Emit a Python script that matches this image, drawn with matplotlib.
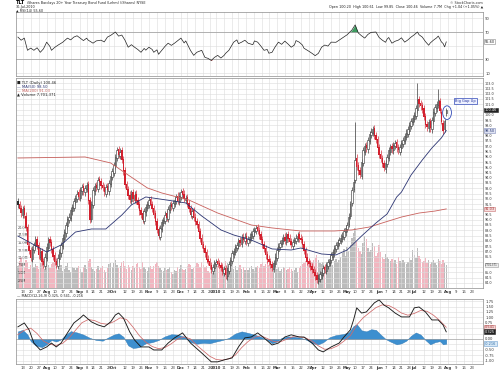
import numpy as np
import pandas as pd
import matplotlib
matplotlib.use('Agg')
import matplotlib.pyplot as plt
import matplotlib.transforms as mtrans
from matplotlib.patches import Ellipse

# TLT daily candles, 9 Jul 2009 - 30 Jul 2010
close = [91.4, 91.0, 90.6, 91.0, 90.5, 89.2, 87.6, 87.0, 86.4, 87.2,
         87.6, 88.1, 87.5, 86.6, 86.9, 86.0, 85.7, 86.5, 87.4, 88.1,
         87.8, 87.1, 86.5, 86.0, 85.7, 86.4, 86.9, 87.6, 88.3, 88.8,
         89.5, 90.1, 90.3, 90.9, 91.2, 91.8, 92.1, 92.5, 92.2, 92.8,
         93.1, 92.7, 93.0, 93.3, 91.8, 90.0, 91.5, 92.8, 93.2, 93.0,
         93.8, 93.6, 93.2, 93.0, 92.6, 93.1, 92.8, 93.5, 94.2, 94.6,
         95.2, 96.0, 96.6, 96.2, 96.5, 95.7, 94.6, 93.3, 92.8, 92.3,
         91.9, 92.5, 92.0, 92.4, 91.8, 91.4, 90.8, 90.5, 90.0, 90.8,
         91.2, 91.5, 91.9, 91.4, 91.0, 90.5, 89.8, 89.0, 88.5, 89.2,
         89.8, 90.0, 90.5, 90.2, 91.0, 91.4, 91.2, 91.6, 91.9, 92.2,
         91.8, 92.3, 92.6, 92.4, 92.0, 92.1, 91.5, 91.0, 90.5, 90.8,
         90.2, 89.8, 89.5, 88.8, 88.2, 87.6, 87.2, 86.8, 86.2, 86.0,
         85.6, 85.2, 85.5, 85.9, 86.0, 85.8, 85.6, 85.4, 85.0, 85.3,
         84.7, 85.2, 85.8, 86.2, 86.8, 87.0, 87.4, 87.6, 88.0, 87.8,
         88.3, 88.1, 88.4, 87.9, 88.2, 88.4, 88.6, 88.9, 89.0, 89.2,
         88.9, 88.5, 88.1, 87.6, 87.2, 86.6, 86.2, 86.0, 85.7, 85.4,
         85.9, 86.5, 87.1, 87.5, 87.8, 88.1, 88.3, 88.0, 88.5, 88.2,
         87.9, 87.6, 87.9, 88.1, 88.3, 88.5, 88.2, 88.1, 87.6, 87.0,
         86.4, 86.0, 85.8, 85.5, 85.2, 84.9, 84.6, 84.3, 84.5, 84.8,
         85.0, 85.4, 85.2, 85.7, 86.0, 86.3, 86.6, 86.9, 87.3, 87.6,
         87.9, 88.1, 88.3, 88.5, 88.9, 89.2, 89.5, 90.3, 91.5, 92.8,
         93.6, 95.7, 95.0, 94.6, 94.3, 95.5, 96.6, 97.0, 96.8, 97.6,
         98.2, 98.4, 98.6, 98.0, 97.6, 96.8, 96.2, 95.8, 95.3, 94.9,
         95.4, 96.0, 96.6, 96.9, 96.7, 97.1, 97.3, 96.8, 96.6, 96.9,
         97.3, 97.6, 98.0, 98.3, 98.6, 99.0, 99.4, 99.7, 100.0, 100.6,
         101.4, 101.0, 100.8, 100.5, 99.8, 99.0, 98.8, 99.3, 98.7, 99.5,
         100.3, 100.7, 101.0, 101.4, 100.4, 99.3, 98.5, 99.42, 100.46]
opens = [91.8, 91.5, 91.1, 90.5, 91.1, 90.4, 89.3, 87.5, 87.1, 86.3,
         87.1, 87.5, 88.2, 87.6, 86.5, 87.0, 86.1, 85.6, 86.4, 87.3,
         88.2, 87.9, 87.2, 86.6, 86.1, 85.6, 86.3, 86.8, 87.5, 88.2,
         88.7, 89.4, 90.0, 90.2, 90.8, 91.1, 91.7, 92.0, 92.6, 92.1,
         92.7, 93.2, 92.6, 92.9, 93.4, 91.9, 90.1, 91.4, 92.7, 93.3,
         92.9, 93.9, 93.7, 93.3, 93.1, 92.5, 93.2, 92.7, 93.4, 94.1,
         94.5, 95.1, 95.9, 96.7, 96.1, 96.6, 95.8, 94.7, 93.4, 92.9,
         92.4, 91.8, 92.6, 91.9, 92.5, 91.9, 91.5, 90.9, 90.6, 89.9,
         90.7, 91.1, 91.4, 92.0, 91.5, 91.1, 90.6, 89.9, 89.1, 88.4,
         89.1, 89.7, 89.9, 90.6, 90.1, 90.9, 91.5, 91.1, 91.5, 91.8,
         92.3, 91.7, 92.2, 92.7, 92.5, 91.9, 92.2, 91.6, 91.1, 90.4,
         90.9, 90.3, 89.9, 89.6, 88.9, 88.3, 87.7, 87.3, 86.9, 86.3,
         86.1, 85.7, 85.1, 85.4, 85.8, 86.1, 85.9, 85.7, 85.5, 84.9,
         85.4, 84.6, 85.1, 85.7, 86.1, 86.7, 86.9, 87.3, 87.5, 88.1,
         87.7, 88.4, 88.0, 88.5, 87.8, 88.1, 88.3, 88.5, 88.8, 88.9,
         89.3, 89.0, 88.6, 88.2, 87.7, 87.3, 86.7, 86.3, 86.1, 85.8,
         85.3, 85.8, 86.4, 87.0, 87.4, 87.7, 88.0, 88.4, 87.9, 88.6,
         88.3, 88.0, 87.5, 87.8, 88.0, 88.2, 88.6, 88.3, 88.2, 87.7,
         87.1, 86.5, 86.1, 85.9, 85.6, 85.3, 85.0, 84.7, 84.2, 84.4,
         84.7, 84.9, 85.5, 85.1, 85.6, 85.9, 86.2, 86.5, 86.8, 87.2,
         87.5, 87.8, 88.0, 88.2, 88.4, 88.8, 89.1, 89.6, 90.4, 91.6,
         92.9, 93.8, 95.9, 95.2, 94.7, 94.2, 95.4, 96.5, 97.1, 96.7,
         97.5, 98.1, 98.3, 98.7, 98.1, 97.7, 96.9, 96.3, 95.9, 95.4,
         94.8, 95.3, 95.9, 96.5, 97.0, 96.6, 97.0, 97.4, 96.9, 96.5,
         96.8, 97.2, 97.5, 97.9, 98.2, 98.5, 98.9, 99.3, 99.6, 99.9,
         100.5, 101.5, 101.1, 100.9, 100.6, 99.9, 99.1, 98.7, 99.4, 98.6,
         99.4, 100.2, 100.6, 100.9, 101.3, 100.3, 99.2, 98.6, 100.2]
high = [92.1, 91.8, 91.4, 91.3, 91.4, 90.7, 89.6, 87.9, 87.4, 87.5,
        87.9, 88.5, 88.5, 87.9, 87.3, 87.3, 86.4, 86.8, 87.8, 88.4,
        88.5, 88.2, 87.5, 86.9, 86.4, 86.7, 87.2, 87.9, 88.6, 89.1,
        89.8, 90.4, 90.6, 91.2, 91.5, 92.1, 92.4, 92.8, 92.9, 93.1,
        93.4, 93.5, 93.3, 93.6, 93.7, 92.2, 91.8, 93.1, 93.5, 93.6,
        94.1, 94.2, 94.0, 93.6, 93.4, 93.4, 93.5, 93.8, 94.5, 94.9,
        95.5, 96.3, 96.9, 97.0, 96.8, 96.9, 96.1, 95.0, 93.7, 93.2,
        92.7, 92.8, 92.9, 92.7, 92.8, 92.2, 91.8, 91.2, 90.9, 91.1,
        91.5, 91.8, 92.2, 92.3, 91.8, 91.4, 90.9, 90.2, 89.4, 89.5,
        90.1, 90.3, 90.8, 90.9, 91.3, 91.7, 91.8, 91.9, 92.2, 92.5,
        92.6, 92.6, 92.9, 93.0, 92.8, 92.4, 92.5, 91.9, 91.4, 91.1,
        91.2, 90.6, 90.2, 89.9, 89.2, 88.6, 88.0, 87.6, 87.2, 86.6,
        86.4, 86.0, 85.8, 86.2, 86.3, 86.4, 86.2, 86.0, 85.8, 85.6,
        85.7, 85.5, 86.1, 86.5, 87.1, 87.3, 87.7, 87.9, 88.3, 88.4,
        88.6, 88.7, 88.7, 88.8, 88.5, 88.7, 88.9, 89.2, 89.3, 89.5,
        89.6, 89.3, 88.9, 88.5, 88.0, 87.6, 87.0, 86.6, 86.4, 86.1,
        86.2, 86.8, 87.4, 87.8, 88.1, 88.4, 88.6, 88.7, 88.8, 88.9,
        88.6, 88.3, 88.2, 88.4, 88.6, 88.8, 88.9, 88.6, 88.5, 88.0,
        87.4, 86.8, 86.4, 86.2, 85.9, 85.6, 85.3, 85.0, 84.8, 85.1,
        85.3, 85.7, 85.8, 86.0, 86.3, 86.6, 86.9, 87.2, 87.6, 87.9,
        88.2, 88.4, 88.6, 88.8, 89.2, 89.5, 89.8, 90.6, 91.8, 93.1,
        93.9, 99.3, 96.3, 95.5, 95.0, 95.8, 96.9, 97.3, 97.4, 97.9,
        98.5, 98.7, 98.9, 99.0, 98.4, 98.0, 97.2, 96.6, 96.2, 95.7,
        95.7, 96.3, 96.9, 97.2, 97.3, 97.4, 97.6, 97.7, 97.2, 97.2,
        97.6, 97.9, 98.3, 98.6, 98.9, 99.3, 99.7, 100.0, 100.3, 100.9,
        103.0, 101.8, 101.4, 101.2, 100.9, 100.2, 99.4, 99.6, 99.7, 99.8,
        100.6, 101.0, 101.3, 102.5, 101.6, 100.6, 99.5, 99.6, 100.61]
low = [91.1, 90.7, 90.3, 90.2, 90.2, 88.9, 87.3, 86.7, 86.1, 86.0,
       86.8, 87.2, 87.2, 86.3, 86.2, 85.7, 85.4, 85.3, 86.1, 87.0,
       87.5, 86.8, 86.2, 85.7, 85.4, 85.3, 86.0, 86.5, 87.2, 87.9,
       88.4, 89.1, 89.7, 89.9, 90.5, 90.8, 91.4, 91.7, 91.9, 91.8,
       92.4, 92.4, 92.3, 92.6, 91.5, 89.7, 89.8, 91.1, 92.4, 92.7,
       92.6, 93.3, 92.9, 92.7, 92.3, 92.2, 92.5, 92.4, 93.1, 93.8,
       94.2, 94.8, 95.6, 95.9, 95.8, 95.4, 94.3, 93.0, 92.5, 92.0,
       91.6, 91.5, 91.7, 91.6, 91.5, 91.1, 90.5, 90.2, 89.7, 89.6,
       90.4, 90.8, 91.1, 91.1, 90.7, 90.2, 89.5, 88.7, 88.2, 88.1,
       88.8, 89.4, 89.6, 89.9, 89.8, 90.6, 90.9, 90.8, 91.2, 91.5,
       91.5, 91.4, 91.9, 92.1, 91.7, 91.6, 91.2, 90.7, 90.2, 90.1,
       89.9, 89.5, 89.2, 88.5, 87.9, 87.3, 86.9, 86.5, 85.9, 85.7,
       85.3, 84.9, 84.8, 85.1, 85.5, 85.5, 85.3, 85.1, 84.7, 84.6,
       84.4, 84.3, 84.8, 85.4, 85.8, 86.4, 86.6, 87.0, 87.2, 87.5,
       87.4, 87.8, 87.7, 87.6, 87.5, 87.8, 88.0, 88.2, 88.5, 88.6,
       88.6, 88.2, 87.8, 87.3, 86.9, 86.3, 85.9, 85.7, 85.4, 85.1,
       85.0, 85.5, 86.1, 86.7, 87.1, 87.4, 87.7, 87.7, 87.6, 87.9,
       87.6, 87.3, 87.2, 87.5, 87.7, 87.9, 87.9, 87.8, 87.3, 86.7,
       86.1, 85.7, 85.5, 85.2, 84.9, 84.6, 84.3, 84.0, 83.9, 84.1,
       84.4, 84.6, 84.9, 84.8, 85.3, 85.6, 85.9, 86.2, 86.5, 86.9,
       87.2, 87.5, 87.7, 87.9, 88.1, 88.5, 88.8, 89.3, 90.1, 91.3,
       92.6, 93.5, 94.7, 94.3, 94.0, 93.9, 95.1, 96.2, 96.5, 96.4,
       97.2, 97.8, 98.0, 97.7, 97.3, 96.5, 95.9, 95.5, 95.0, 94.6,
       94.5, 95.0, 95.6, 96.2, 96.4, 96.3, 96.7, 96.5, 96.3, 96.2,
       96.5, 96.9, 97.2, 97.6, 97.9, 98.2, 98.6, 99.0, 99.3, 99.6,
       100.2, 100.7, 100.5, 100.2, 99.5, 98.7, 98.5, 98.4, 98.4, 98.3,
       99.1, 99.9, 100.3, 100.6, 100.2, 99.1, 98.2, 98.4, 99.85]
# volume, millions of shares
volume = [7.5, 9.0, 10.5, 8.2, 7.0, 9.5, 8.8, 6.5, 7.8, 9.2, 6.9, 8.1, 7.4, 6.2, 8.5, 9.0, 7.1, 6.4, 8.0, 7.6,
          6.8, 7.9, 8.6, 9.4, 7.2, 6.0, 6.9, 7.7, 5.8, 6.5, 7.3, 8.4, 6.1, 5.5, 7.0, 6.6, 5.9, 6.8, 7.5, 6.2,
          5.4, 6.9, 7.8, 6.3, 8.9, 9.6, 7.1, 6.5, 5.7, 6.4, 7.2, 5.9, 6.6, 7.4, 6.0, 5.5, 6.8, 7.9, 8.5, 7.0,
          8.2, 9.4, 7.6, 6.8, 7.3, 8.8, 9.1, 7.5, 6.4, 7.8, 6.9, 6.1, 7.4, 6.6, 7.9, 8.3, 7.0, 6.2, 8.7, 7.1,
          6.3, 5.8, 6.9, 7.5, 6.4, 7.2, 8.1, 8.8, 7.4, 6.7, 6.0, 5.6, 6.8, 5.9, 6.5, 7.1, 5.2, 4.8, 6.0, 5.7,
          6.9, 6.2, 7.8, 6.5, 5.9, 6.4, 7.3, 8.0, 7.6, 6.2, 6.8, 7.5, 8.3, 7.9, 7.1, 8.6, 7.7, 6.9, 7.4, 5.8,
          5.1, 6.3, 4.9, 5.5, 6.6, 7.2, 6.1, 7.8, 8.4, 6.9, 9.0, 8.2, 7.4, 6.8, 7.6, 6.5, 7.3, 6.1, 6.9, 7.8,
          6.4, 7.1, 6.0, 6.7, 5.9, 6.6, 7.4, 6.2, 5.8, 6.9, 7.5, 6.8, 7.9, 8.6, 7.2, 8.1, 9.0, 7.7, 6.9, 7.4,
          8.3, 7.0, 6.4, 6.9, 5.8, 6.3, 7.1, 6.6, 5.9, 6.2, 7.0, 6.4, 5.7, 6.1, 6.8, 5.5, 6.6, 7.2, 7.9, 8.5,
          8.9, 9.6, 8.2, 7.7, 8.8, 9.3, 10.1, 11.0, 9.5, 8.4, 7.9, 8.6, 7.2, 8.0, 7.5, 9.1, 8.3, 7.6, 8.9, 9.8,
          8.7, 9.4, 10.3, 11.8, 12.9, 10.6, 13.8, 12.2, 14.5, 16.8, 18.4, 20.0, 15.6, 13.2, 12.5, 11.4, 14.9, 17.2, 16.5, 13.4,
          11.9, 12.7, 15.1, 13.9, 10.8, 11.6, 14.3, 12.0, 10.5, 9.8, 11.2, 10.4, 9.6, 8.9, 9.7, 8.5, 9.2, 8.0, 10.3, 9.0,
          8.3, 9.5, 8.7, 7.9, 8.8, 10.1, 9.4, 12.6, 11.1, 9.9, 13.3, 10.7, 9.6, 8.6, 9.1, 10.0, 8.4, 9.3, 8.1, 8.8,
          9.5, 8.2, 7.6, 9.8, 8.9, 8.0, 9.2, 8.5, 7.7]

# overlays read at sample days (day index, value)
ma50_day = [0, 8, 18, 27, 36, 46, 55, 65, 71, 80, 93, 105, 115, 127, 135, 146, 159, 171, 177, 190,
            199, 206, 215, 224, 231, 237, 240, 246, 253, 259, 265, 268]
ma50 = [88.45, 87.79, 86.93, 87.60, 88.83, 89.12, 89.12, 90.45, 91.41, 92.17, 91.88, 91.60, 90.36, 89.03,
        88.55, 88.07, 87.22, 87.12, 87.31, 86.74, 86.65, 87.12, 88.45, 89.69, 90.55, 92.17, 92.64, 94.26,
        95.69, 96.83, 97.80, 98.50]
ma200_day = [0, 42, 58, 69, 81, 90, 107, 125, 146, 159, 177, 198, 209, 220, 230, 240, 251, 261, 268]
ma200 = [95.88, 95.98, 95.41, 94.26, 93.03, 92.55, 91.88, 90.64, 89.50, 89.22, 88.93, 88.93, 89.03,
         89.31, 89.79, 90.26, 90.64, 90.83, 91.03]

rsi_day = [0, 2, 4, 6, 8, 10, 12, 14, 16, 18, 20, 21, 23, 25, 28, 31, 33, 35, 37, 39, 41, 43, 44, 47,
           49, 52, 54, 56, 58, 61, 63, 65, 67, 69, 71, 73, 75, 77, 79, 80, 82, 84, 85, 87, 88, 90, 92,
           94, 96, 98, 100, 102, 104, 105, 107, 108, 110, 112, 115, 117, 119, 121, 123, 125, 127, 129,
           130, 132, 135, 137, 138, 140, 142, 144, 147, 148, 150, 152, 154, 156, 157, 159, 161, 163,
           165, 167, 169, 171, 173, 174, 176, 178, 179, 182, 184, 186, 188, 190, 192, 194, 196, 199,
           201, 204, 206, 209, 211, 213, 215, 217, 219, 221, 224, 226, 228, 230, 231, 232, 234, 236,
           238, 240, 242, 244, 246, 248, 250, 251, 253, 255, 257, 258, 260, 262, 263, 264, 265, 266,
           267, 268]
rsi = [62.6, 58.0, 61.1, 43.3, 46.5, 43.3, 47.0, 40.4, 45.5, 55.2, 49.0, 43.3, 47.5, 50.7, 55.0, 61.1,
       58.5, 62.6, 64.5, 61.1, 57.5, 61.0, 58.1, 53.7, 57.0, 58.1, 55.5, 62.6, 65.0, 70.0, 64.0, 65.6,
       58.0, 47.8, 51.5, 47.8, 44.5, 40.4, 46.0, 43.5, 47.8, 44.5, 40.4, 44.0, 37.5, 43.3, 49.0, 53.7,
       50.5, 53.7, 57.5, 61.1, 54.0, 57.0, 47.8, 43.0, 35.9, 40.5, 43.3, 33.0, 31.5, 28.5, 33.0, 35.9,
       32.0, 35.9, 39.0, 43.3, 55.2, 58.5, 53.0, 55.2, 58.0, 53.7, 51.5, 57.0, 55.2, 49.5, 43.3, 44.5,
       39.0, 40.4, 48.5, 55.2, 52.0, 56.7, 52.5, 47.8, 51.0, 57.5, 55.2, 51.0, 46.3, 42.0, 38.9, 35.5,
       38.9, 47.8, 51.0, 49.5, 55.2, 55.0, 58.1, 62.6, 66.0, 73.0, 80.4, 68.5, 64.5, 61.1, 66.5, 69.5,
       70.0, 62.0, 58.1, 55.0, 59.6, 62.0, 53.7, 56.5, 58.1, 61.5, 55.2, 58.5, 62.6, 66.0, 70.0, 66.0,
       62.6, 56.0, 50.7, 54.0, 58.1, 61.5, 64.1, 60.0, 55.5, 53.3, 48.3, 55.6]

macd_day = [0, 4, 7, 10, 14, 18, 21, 24, 27, 31, 35, 39, 41, 46, 50, 54, 58, 61, 63, 66, 70, 73, 77,
            82, 85, 90, 94, 98, 103, 108, 115, 121, 125, 129, 134, 138, 142, 146, 150, 154, 159, 163,
            167, 171, 176, 179, 184, 188, 191, 196, 201, 204, 208, 210, 212, 215, 218, 223, 226, 229,
            232, 236, 240, 245, 248, 251, 255, 259, 263, 266, 268]
macd = [0.56, 0.74, 0.42, -0.19, -0.51, -0.37, -0.19, -0.37, -0.19, 0.28, 0.74, 0.97, 1.11, 0.79,
        0.65, 0.56, 0.79, 1.11, 1.20, 0.97, 0.32, -0.05, -0.37, -0.37, -0.51, -0.51, -0.19, 0.05, 0.28,
        -0.19, -0.65, -1.06, -1.06, -0.97, -0.88, -0.37, 0.05, 0.09, 0.28, 0.05, -0.28, -0.19, 0.09,
        0.19, 0.09, 0.09, -0.19, -0.51, -0.60, -0.37, -0.19, 0.09, 0.42, 0.88, 1.44, 1.20, 1.25, 1.67,
        1.81, 1.57, 1.44, 1.20, 1.02, 1.02, 1.44, 1.48, 1.25, 0.88, 0.88, 0.65, 0.33]
signal_day = list(range(0, 269, 4))
signal = [0.20, 0.40, 0.50, 0.25, -0.10, -0.25, -0.30, -0.20, 0.05, 0.40, 0.75, 0.90, 0.85, 0.72,
          0.68, 0.80, 0.98, 0.90, 0.55, 0.15, -0.15, -0.35, -0.45, -0.40, -0.22, 0.00, 0.10, 0.00,
          -0.30, -0.55, -0.80, -0.95, -0.98, -0.92, -0.75, -0.40, -0.12, 0.08, 0.15, 0.02, -0.12,
          -0.14, -0.02, 0.10, 0.10, 0.05, -0.10, -0.32, -0.48, -0.45, -0.32, -0.10, 0.15, 0.65, 0.98,
          1.22, 1.45, 1.58, 1.55, 1.40, 1.20, 1.10, 1.18, 1.32, 1.28, 1.10, 0.85, 0.54]
hist_day = [0, 3, 6, 8, 11, 15, 18, 21, 24, 27, 30, 33, 37, 41, 45, 49, 53, 56, 60, 63, 66, 69, 72,
            76, 80, 84, 88, 92, 96, 100, 104, 108, 112, 116, 120, 124, 128, 132, 136, 140, 144, 148,
            152, 156, 159, 162, 165, 169, 173, 177, 181, 184, 188, 191, 195, 199, 203, 207, 210, 212,
            215, 218, 221, 224, 227, 230, 233, 237, 240, 243, 246, 249, 252, 255, 258, 261, 264, 266, 268]
hist = [0.35, 0.42, 0.2, -0.1, -0.3, -0.38, -0.25, -0.05, -0.12, -0.02, 0.2, 0.36, 0.3, 0.2, 0.05,
        -0.05, -0.08, 0.05, 0.2, 0.26, 0.1, -0.3, -0.42, -0.38, -0.2, -0.15, -0.05, 0.12, 0.22, 0.2,
        0.1, -0.15, -0.22, -0.18, -0.2, -0.12, -0.05, 0.05, 0.25, 0.35, 0.28, 0.2, 0.1, -0.05, -0.2,
        -0.12, 0.05, 0.12, 0.1, 0.05, -0.05, -0.2, -0.25, -0.15, 0.08, 0.18, 0.22, 0.3, 0.6, 0.68, 0.4,
        0.35, 0.45, 0.42, 0.2, 0.0, -0.12, -0.25, -0.2, -0.08, 0.15, 0.3, 0.2, -0.05, -0.25, -0.15,
        -0.1, -0.25, -0.22]

# trading calendar for the date axis
holidays = pd.to_datetime(['2009-09-07', '2009-11-26', '2009-12-25', '2010-01-01', '2010-01-18',
                           '2010-02-15', '2010-04-02', '2010-05-31', '2010-07-05', '2010-09-06'])
days = pd.bdate_range('2009-07-01', '2010-09-10')
days = days[~days.isin(holidays)]
last = days.get_loc(pd.Timestamp('2010-07-30'))
days = days[last - len(close) + 1:]

x = np.arange(len(close))
o = np.array(opens); c = np.array(close); h = np.array(high); l = np.array(low)
prev = np.r_[c[0], c[:-1]]
XMAX = 291.0

month_idx = [i for i in range(1, len(days)) if days[i].month != days[i - 1].month]
week_idx = [i for i in range(1, len(days)) if days[i].weekday() < days[i - 1].weekday()]
ticks = []
for i in month_idx:
    ticks.append((i, days[i].strftime('%Y') if days[i].month == 1 else days[i].strftime('%b'), True))
for i in week_idx:
    if all(abs(i - m) > 2 for m in month_idx):
        ticks.append((i, str(days[i].day), False))
ticks = sorted(t for t in ticks if t[0] < XMAX - 1)
tick_pos = [t[0] for t in ticks]

GRID = '#dcdcdc'
SPINE = '#8c8c8c'
FS = 2.7

fig = plt.figure(figsize=(5, 3.74), dpi=100)
L, W = 16 / 500, 467 / 500


def rect(top, bot):
    return [L, 1 - bot / 374, W, (bot - top) / 374]


def style(a):
    a.set_xlim(-1.2, XMAX)
    a.set_xticks(tick_pos)
    a.grid(True, color=GRID, lw=0.4)
    a.set_axisbelow(True)
    a.yaxis.tick_right()
    a.tick_params(axis='both', length=0, labelsize=FS, colors='#333333', pad=1.5)
    for s in a.spines.values():
        s.set_color(SPINE)
        s.set_linewidth(0.5)


def set_dates(a):
    a.set_xticklabels([t[1] for t in ticks])
    for lab, t in zip(a.get_xticklabels(), ticks):
        if t[2]:
            lab.set_fontweight('bold')
    a.tick_params(axis='x', pad=1.2)


def right_labels(a, fmt, tagged, gap):
    # leave room on the right scale where a value tag sits
    def f(v, pos):
        return '' if any(abs(v - t) < gap for t in tagged) else fmt % v
    a.yaxis.set_major_formatter(plt.FuncFormatter(f))


def tag(a, y, text, fc, tc='white', ec=None, fs=2.5):
    a.text(1.004, y, text, transform=mtrans.blended_transform_factory(a.transAxes, a.transData),
           fontsize=fs, color=tc, va='center', ha='left',
           bbox=dict(boxstyle='square,pad=0.12', fc=fc, ec=ec or fc, lw=0.4))


# RSI panel
ax_rsi = fig.add_axes(rect(12, 76))
style(ax_rsi)
ax_rsi.set_ylim(5.8, 99.2)
ax_rsi.set_yticks([10, 30, 50, 70, 90])
right_labels(ax_rsi, '%d', [rsi[-1]], 7)
ax_rsi.set_xticklabels([])
for lvl in (30, 70):
    ax_rsi.axhline(lvl, color='#9a9a9a', lw=0.5)
ax_rsi.plot(rsi_day, rsi, color='#222222', lw=0.5)
rs = np.array(rsi)
ax_rsi.fill_between(rsi_day, rs, 70, where=rs > 70, color='#3c9a5f', interpolate=True, lw=0)
ax_rsi.fill_between(rsi_day, rs, 30, where=rs < 30, color='#d04848', interpolate=True, lw=0)
tag(ax_rsi, rsi[-1], '55.60', '#ffffff', '#222222', '#888888')

# price panel with volume underneath
ax_vol = fig.add_axes(rect(78, 288))
ax_vol.set_xlim(-1.2, XMAX)
ax_vol.set_ylim(0, 70)
ax_vol.set_xticks([]); ax_vol.set_yticks([])
for s in ax_vol.spines.values():
    s.set_visible(False)
vcol = np.where(c < prev, '#f2b6c0', '#bcbcbc')
ax_vol.bar(x, volume, width=0.85, color=vcol, lw=0)
vt = mtrans.blended_transform_factory(ax_vol.transAxes, ax_vol.transData)
for v in np.arange(2.5, 20.1, 2.5):
    ax_vol.text(0.004, v, f'{v:.1f}M', transform=vt, fontsize=2.4, color='#333333', va='center')

ax = fig.add_axes(rect(78, 288))
ax.patch.set_visible(False)
style(ax)
ax.set_ylim(83.5, 103.5)
ax.set_yticks(np.arange(84.0, 103.01, 0.5))
vol_as_price = 83.5 + volume[-1] / 70 * 20
right_labels(ax, '%.1f', [c[-1], ma50[-1], ma200[-1], vol_as_price], 0.3)
ax.tick_params(axis='y', labelsize=2.4)
set_dates(ax)

ccol = np.where(c < prev, '#d3202e', '#2a2a2a')
ax.vlines(x, l, h, colors=ccol, lw=0.45, zorder=3)
up = c >= o
ax.bar(x[up], (c - o)[up], bottom=o[up], width=0.9, facecolor='white', edgecolor=ccol[up],
       lw=0.4, zorder=4)
ax.bar(x[~up], (o - c)[~up], bottom=c[~up], width=0.9, color=ccol[~up], lw=0, zorder=4)
ax.plot(ma200_day, ma200, color='#c8605c', lw=0.6, zorder=5)
ax.plot(ma50_day, ma50, color='#2b3472', lw=0.6, zorder=5)

ax.text(280, 101.3, 'Big Gap Up', fontsize=2.6, color='#1f2f9a', ha='center', va='center', zorder=6,
        bbox=dict(boxstyle='square,pad=0.25', fc='#eef1ff', ec='#3049b8', lw=0.5))
ax.add_patch(Ellipse((268.5, 100.2), 5.5, 1.3, fill=False, ec='#3049b8', lw=0.6, zorder=6))

tag(ax, c[-1], f'{c[-1]:.2f}', '#222222')
tag(ax, ma50[-1], f'{ma50[-1]:.2f}', '#dfe3f3', '#1f2f6a', '#7f8ab8')
tag(ax, ma200[-1], f'{ma200[-1]:.2f}', '#f6dede', '#a03030', '#c87070')
tag(ax_vol, volume[-1], '7,701,371', '#eeeeee', '#333333', '#999999', fs=1.8)

lt = ax.transAxes
ax.text(0.003, 0.975, '\u25a0 TLT (Daily) 100.46', transform=lt, fontsize=FS, color='#222222', va='center')
ax.text(0.003, 0.957, '\u2014 MA(50) 98.50', transform=lt, fontsize=FS, color='#2b3472', va='center')
ax.text(0.003, 0.939, '\u2014 MA(200) 91.03', transform=lt, fontsize=FS, color='#c8605c', va='center')
ax.text(0.003, 0.921, '\u25b2 Volume 7,701,371', transform=lt, fontsize=FS, color='#222222', va='center')

# MACD panel
ax_m = fig.add_axes(rect(299, 364))
style(ax_m)
ax_m.set_ylim(-1.16, 1.85)
ax_m.set_yticks(np.arange(-1.0, 1.76, 0.25))
right_labels(ax_m, '%.2f', [signal[-1], macd[-1], hist[-1]], 0.1)
set_dates(ax_m)
ax_m.axhline(0, color='#9a9a9a', lw=0.4)
ax_m.fill_between(hist_day, hist, 0, color='#3d8fcf', lw=0.3, ec='#2f78b3')
ax_m.plot(signal_day, signal, color='#d06a6a', lw=0.55)
ax_m.plot(macd_day, macd, color='#1a1a1a', lw=0.65)
tag(ax_m, signal[-1], '0.541', '#f3d6d6', '#a03030', '#c87070')
tag(ax_m, macd[-1], '0.325', '#222222')
tag(ax_m, hist[-1], '-0.216', '#d7e8f6', '#2f6ea8', '#6fa0cf')

# header texts
fig.text(16 / 500, 1 - 3 / 374, 'TLT', fontsize=3.6, fontweight='bold', va='center')
fig.text(27 / 500, 1 - 3 / 374, 'iShares Barclays 20+ Year Treasury Bond Fund (Lehm) (iShares) NYSE',
         fontsize=2.4, va='center', color='#222222')
fig.text(16 / 500, 1 - 7 / 374, '30-Jul-2010', fontsize=2.4, va='center', color='#222222')
fig.text(16 / 500, 1 - 10.5 / 374, '\u25b2 RSI(14) 55.60', fontsize=2.4, va='center', color='#222222')
fig.text(483 / 500, 1 - 2.5 / 374, '\u00a9 StockCharts.com', fontsize=2.4, ha='right', va='center',
         color='#333333')
fig.text(483 / 500, 1 - 7 / 374,
         'Open 100.20  High 100.61  Low 99.85  Close 100.46  Volume 7.7M  Chg +1.04 (+1.05%) \u25b2',
         fontsize=2.4, ha='right', va='center', color='#222222')
fig.text(17 / 500, 1 - 296 / 374, '\u2014 MACD(12,26,9) 0.325, 0.541, -0.216', fontsize=2.4,
         va='center', color='#222222')

fig.savefig('out.png', dpi=100)
